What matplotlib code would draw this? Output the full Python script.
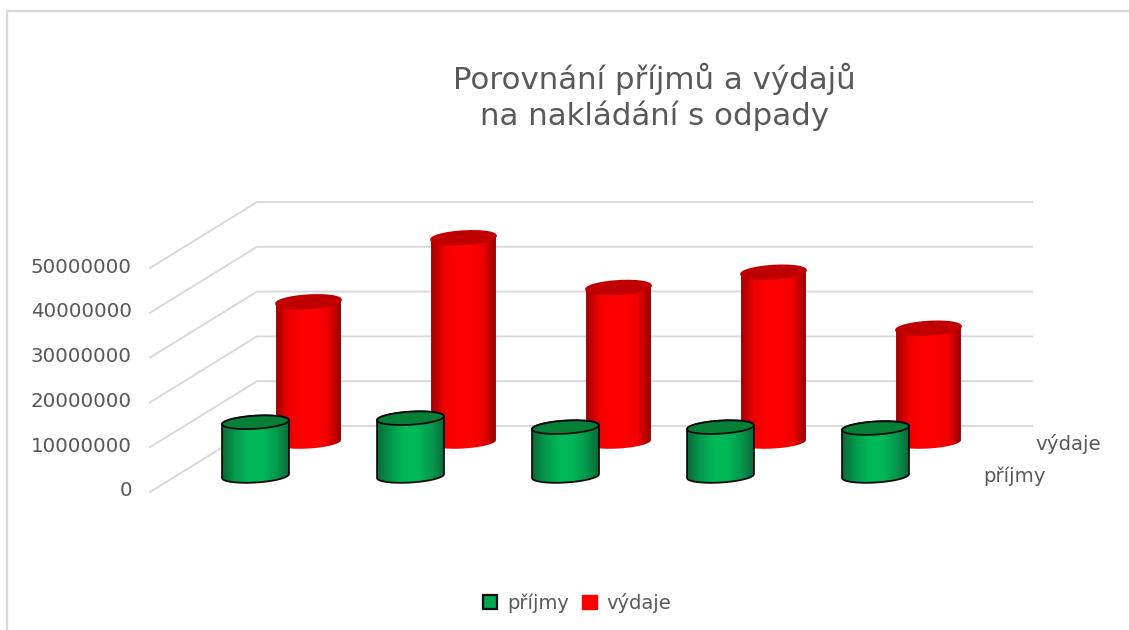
# Porovnani prijmu a vydaju - pseudo-3D cylinder chart, drawn on one flat axes
import numpy as np, matplotlib as mpl, matplotlib.pyplot as plt
from matplotlib.colors import LinearSegmentedColormap
from matplotlib.patches import Patch, Polygon
mpl.use("Agg")
mpl.rcParams.update({"font.family":["DejaVu Sans"]})
INK="#595959"; GRID="#d9d9d9"

# values
prijmy=[12.0e6,12.9e6,10.9e6,10.9e6,10.7e6]
vydaje=[31.3e6,45.6e6,34.5e6,37.9e6,25.4e6]
ticks=[0,10000000,20000000,30000000,40000000,50000000]

# picture geometry in px
W,H=1129,630
X0,STEP=255.5,155.0        # centre of first green cylinder, spacing
K=44.8/1e7                 # px per unit of value
Y0=426.0                   # value 0 on the back wall
fx=lambda px:(px-X0)/STEP
vy=lambda py:(Y0-py)/K

fig=plt.figure(figsize=(W/100,H/100),dpi=100,facecolor="white")
ax=fig.add_axes([0,0,1,1]); ax.axis("off")

# frame of the chart area
ax.plot([fx(7),fx(7)],[vy(H),vy(11)],color=GRID,lw=1.6,zorder=1)
ax.plot([fx(7),fx(W)],[vy(11),vy(11)],color=GRID,lw=1.6,zorder=1)

# gridlines: diagonal side wall plus back wall
for t in ticks:
    ax.plot([fx(150),fx(257),fx(1032)],[t+vy(492),t+vy(426),t+vy(426)],color=GRID,lw=1.4,zorder=1)
    ax.text(fx(132),t+vy(491),str(t),ha="right",va="center",fontsize=14.3,color=INK)

red_cm=LinearSegmentedColormap.from_list("r",["#a00000","#f00000","#ff0000","#ff0000","#f00000","#960000"])
green_cm=LinearSegmentedColormap.from_list("g",["#0b6a36","#059a4e","#00b858","#00b858","#059a4e","#0b6a36"])

def ell(cx,cy,a,b,tilt=-3.5,t=None):
    # ellipse in px, tilted, returned in data coordinates
    t=np.linspace(0,2*np.pi,120) if t is None else t
    ex,ey=a*np.cos(t),b*np.sin(t)
    r=np.deg2rad(tilt)
    return np.c_[fx(cx+ex*np.cos(r)-ey*np.sin(r)),vy(cy+ex*np.sin(r)+ey*np.cos(r))]

def cylinder(i,val,base_y,a,cmap,top,edge,z):
    cx=X0+STEP*i+(53 if cmap is red_cm else 0)
    top_y=base_y-val*K
    lower=ell(cx,base_y,a,6.5,t=np.linspace(0,np.pi,60))      # front half of the base
    upper=ell(cx,top_y,a,6.5,t=np.linspace(np.pi,2*np.pi,60)) # back half of the top
    body=np.r_[lower,upper]
    im=ax.imshow(np.linspace(0,1,200)[None,:],cmap=cmap,aspect="auto",zorder=z,
                 extent=[fx(cx-a),fx(cx+a),vy(base_y+10),vy(top_y-10)])
    pg=Polygon(body,closed=True,fc="none",ec=edge or "none",lw=1.3,zorder=z+.1)
    ax.add_patch(pg); im.set_clip_path(pg)
    ax.add_patch(Polygon(ell(cx,top_y,a,6.5),closed=True,fc=top,ec=edge or top,lw=1.3,zorder=z+.2))

for i,v in enumerate(vydaje):
    cylinder(i,v,442.0,32.5,red_cm,"#c00000",None,3)
for i,v in enumerate(prijmy):
    cylinder(i,v,476.0,33.5,green_cm,"#068037","#0a0a0a",4)

ax.text(fx(1035),vy(444),"výdaje",ha="left",va="center",fontsize=14.2,color=INK)
ax.text(fx(983),vy(476),"příjmy",ha="left",va="center",fontsize=14.2,color=INK)
ax.text(fx(654),vy(97),"Porovnání příjmů a výdajů\nna nakládání s odpady",ha="center",va="center",
        fontsize=22.2,color=INK,linespacing=1.22)

handles=[Patch(fc="#00a651",ec="#111111",lw=1.6,label="příjmy"),Patch(fc="#ff0000",ec="#ff0000",label="výdaje")]
ax.legend(handles=handles,loc="center",bbox_to_anchor=(fx(577),vy(603)),bbox_transform=ax.transData,ncol=2,
          frameon=False,fontsize=14,labelcolor=INK,handlelength=0.75,handleheight=0.75,columnspacing=0.7,handletextpad=0.5)

ax.set_xlim(fx(0),fx(W)); ax.set_ylim(vy(H),vy(0))
fig.savefig("out.png",dpi=100,facecolor="white")
